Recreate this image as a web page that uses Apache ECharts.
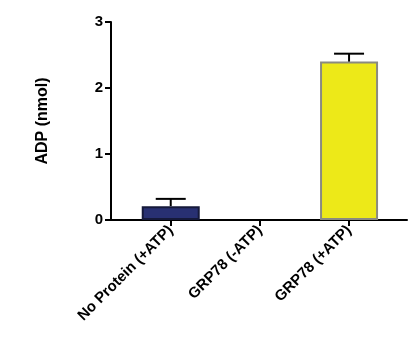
<!DOCTYPE html>
<html>
<head>
<meta charset="utf-8">
<script src="https://cdn.jsdelivr.net/npm/echarts@6/dist/echarts.min.js"></script>
<style>html,body{margin:0;padding:0;background:#fff;}#c{width:419px;height:341px;}</style>
</head>
<body>
<div id="c"></div>
<script>
var categories = ['No Protein (+ATP)', 'GRP78 (-ATP)', 'GRP78 (+ATP)'];
var values = [0.21, 0, 2.40];
var errors = [0.11, 0, 0.12];
var yTicks = [0, 1, 2, 3];

var barColors = ['#283072', '#ffffff', '#ede918'];
var barBorders = ['#15193a', '#ffffff', '#8a8a80'];

var chart = echarts.init(document.getElementById('c'));
var font = '"Liberation Sans", Arial, sans-serif';

var barData = values.map(function (v, i) {
  return {
    value: [i, v],
    itemStyle: { color: barColors[i], borderColor: barBorders[i], borderWidth: v > 0 ? 2 : 0 }
  };
});
var errData = values.map(function (v, i) { return [i, v, errors[i]]; });

chart.setOption({
  animation: false,
  grid: { left: 111, right: 12, top: 22, bottom: 121 },
  xAxis: {
    type: 'value',
    min: -0.67,
    max: 2.65,
    splitLine: { show: false },
    axisLine: { show: true, onZero: false, lineStyle: { color: '#000', width: 2 } },
    axisTick: { show: true, customValues: [0, 1, 2], length: 6, lineStyle: { color: '#000', width: 2 } },
    axisLabel: {
      customValues: [0, 1, 2],
      rotate: 45,
      margin: 8,
      color: '#000',
      fontWeight: 'bold',
      fontSize: 15,
      fontFamily: font,
      formatter: function (v) { return categories[Math.round(v)]; }
    }
  },
  yAxis: {
    type: 'value',
    min: yTicks[0],
    max: yTicks[yTicks.length - 1],
    interval: 1,
    name: 'ADP (nmol)',
    nameLocation: 'middle',
    nameGap: 60,
    nameTextStyle: { color: '#000', fontWeight: 'bold', fontSize: 16, fontFamily: font },
    splitLine: { show: false },
    axisLine: { show: true, onZero: false, lineStyle: { color: '#000', width: 2 } },
    axisTick: { show: true, length: 6, lineStyle: { color: '#000', width: 2 } },
    axisLabel: { margin: 8, color: '#000', fontWeight: 'bold', fontSize: 15, fontFamily: font }
  },
  series: [
    {
      type: 'bar',
      barWidth: 58,
      data: barData,
      z: 2
    },
    {
      type: 'custom',
      z: 3,
      data: errData,
      renderItem: function (params, api) {
        var x = api.value(0), v = api.value(1), e = api.value(2);
        if (!(e > 0)) return null;
        var p0 = api.coord([x, v]);
        var p1 = api.coord([x, v + e]);
        var hw = 15;
        return {
          type: 'group',
          children: [
            { type: 'line', shape: { x1: p0[0], y1: p0[1], x2: p1[0], y2: p1[1] }, style: { stroke: '#000', lineWidth: 2 } },
            { type: 'line', shape: { x1: p1[0] - hw, y1: p1[1], x2: p1[0] + hw, y2: p1[1] }, style: { stroke: '#000', lineWidth: 2 } }
          ]
        };
      }
    }
  ]
});
</script>
</body>
</html>
